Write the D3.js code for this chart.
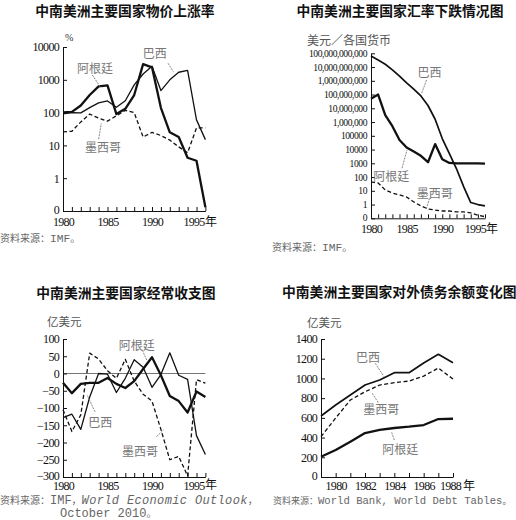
<!DOCTYPE html>
<html><head><meta charset="utf-8">
<script src="https://cdn.jsdelivr.net/npm/d3@7/dist/d3.min.js"></script>
<style>
body{margin:0;background:#fff}
svg{display:block}
.title{font-family:"Noto Sans CJK SC",sans-serif;font-weight:bold;font-size:13.8px;fill:#111}
.unit{font-family:"Noto Sans CJK SC",sans-serif;fill:#555}
.slabel{font-family:"Noto Sans CJK SC",sans-serif;font-size:12px;fill:#777}
.src{font-family:"Noto Sans CJK SC",sans-serif;font-size:10px;fill:#666}
.mono{font-family:"Liberation Mono","DejaVu Sans Mono",monospace;font-size:11.3px}
</style></head><body>
<svg id="c" width="516" height="520"></svg>
<script>
// ---------- DATA ----------
const years = [1980,1981,1982,1983,1984,1985,1986,1987,1988,1989,1990,1991,1992,1993,1994,1995,1996];

// Panel 1: inflation (%), log scale
const priceArgentina = [101,105,165,344,627,672,90,131,343,3000,2400,140,25,18,4.2,3.4,0.13];
const priceBrazil    = [92,100,98,142,197,227,145,230,700,1500,2600,470,1000,1700,1950,60,15];
const priceMexico    = [26,27,52,90,68,55,80,117,100,18,25,20,14.5,9,6,34,34];
const priceTicks = [0.1,1,10,100,1000,10000];
const priceTickLabels = ["0","1","10","100","1000","10000"];

// Panel 2: exchange rate (currency units per USD), log scale
const fxBrazil    = [6.3e10,3.2e10,1.6e10,6.3e9,2.2e9,7.1e8,2.5e8,7.9e7,1.6e7,1.6e6,63000,5000,400,20,1.4,1.0,0.8];
const fxArgentina = [5.0e7,1.0e8,3.2e6,5.0e5,5.0e4,14000,7100,3500,1200,25000,2000,1070,1000,1000,1000,1000,950];
const fxMexico    = [44,37,11.5,6.9,5.0,3.5,1.55,0.8,0.48,0.4,0.34,0.34,0.29,0.29,0.25,0.17,0.13];
const fxTicks = [0.1,1,10,100,1e3,1e4,1e5,1e6,1e7,1e8,1e9,1e10,1e11];
const fxTickLabels = ["0","1","10","100","1000","10000","100000","1,000,000","10,000,000","100,000,000","1,000,000,000","10,000,000,000","100,000,000,000"];

// Panel 3: current account (100 million USD)
const caArgentina = [-27,-57,-30,-27,-27,-13,-30,-42,-22,13,47,-5,-65,-80,-113,-52,-68];
const caBrazil    = [-128,-118,-162,-68,0,-2,-55,-14,40,18,-40,-3,60,-5,-17,-180,-235];
const caMexico    = [-105,-168,-120,59,42,8,-14,41,-22,-60,-80,-162,-250,-240,-297,-18,-28];
const caTicks = [100,50,0,-50,-100,-150,-200,-250,-300];

// Panel 4: external debt (100 million USD)
const debtYears = [1979,1980,1981,1982,1983,1984,1985,1986,1987,1988];
const debtBrazil    = [619,730,832,933,984,1058,1058,1156,1245,1160];
const debtMexico    = [409,598,781,865,933,957,973,1024,1105,994];
const debtArgentina = [206,274,358,446,477,497,510,527,588,591];
const debtTicks = [0,200,400,600,800,1000,1200,1400];
const debtXLabels = [1980,1982,1984,1986,1988];

const yearLabels = [1980,1985,1990,1995];

// ---------- DRAW ----------
const svg = d3.select("#c");
svg.append("rect").attr("width",516).attr("height",520).attr("fill","#fff");

const SERIF = '"Liberation Serif","Times New Roman","DejaVu Serif",serif';
const STY = {
  thick:{w:2.3,dash:null},
  mid:{w:1.7,dash:null},
  thin:{w:1.3,dash:null},
  dash:{w:1.3,dash:"4,2.5"}
};

function drawLine(g, x, y, xs, vals, style){
  const line = d3.line().x(d=>x(d[0])).y(d=>y(d[1]));
  g.append("path").datum(xs.map((v,i)=>[v,vals[i]]))
    .attr("d",line).attr("fill","none").attr("stroke","#111")
    .attr("stroke-width",style.w).attr("stroke-linejoin","round")
    .attr("stroke-dasharray",style.dash);
}
function label(g, x, y, text, pos, lead){
  g.append("text").attr("class","slabel").attr("x",x(pos[0])).attr("y",y(pos[1]))
    .attr("text-anchor","middle").attr("dominant-baseline","central").text(text);
  g.append("line").attr("x1",x(lead[0])).attr("y1",y(lead[1]))
    .attr("x2",x(lead[2])).attr("y2",y(lead[3]))
    .attr("stroke","#777").attr("stroke-width",0.9).attr("stroke-dasharray","2,1");
}
function styleAxis(ax, fs, ls){
  ax.attr("font-family",SERIF);
  ax.select(".domain").attr("stroke","#111").attr("stroke-width",1);
  ax.selectAll(".tick line").attr("stroke","#111");
  ax.selectAll(".tick text").style("font-family",SERIF).style("font-size",fs+"px")
    .style("letter-spacing",ls+"px").attr("fill","#111");
}
function yAxis(g, xPix, scale, vals, fmt, fs, ls){
  const ay = g.append("g").attr("transform",`translate(${xPix},0)`)
    .call(d3.axisLeft(scale).tickValues(vals).tickSizeInner(-4).tickSizeOuter(0).tickPadding(4).tickFormat(fmt));
  styleAxis(ay,fs,ls);
  ay.selectAll(".tick text").filter(d=>d===d3.min(vals)).attr("dy","0.2em");
  return ay;
}
function xAxisYears(g, x, yPix, tickVals, labelVals, nianX, pad){
  const ax = g.append("g").attr("transform",`translate(0,${yPix})`)
    .call(d3.axisBottom(x).tickValues(tickVals).tickSizeInner(-4).tickSizeOuter(0).tickPadding(pad)
      .tickFormat(d=>labelVals.includes(d)?String(d):""));
  styleAxis(ax,12,-0.7);
  g.append("text").attr("x",nianX).attr("y",yPix+pad+8).attr("class","unit")
    .style("font-size","12px").style("fill","#111").text("年");
  return ax;
}

// ===== Panel 1 =====
{
  const g = svg.append("g");
  const x = d3.scaleLinear().domain([1980,1996]).range([63,205.4]);
  const y = d3.scaleLog().domain([0.1,10000]).range([211,47]);
  g.append("text").attr("class","title").attr("x",125).attr("y",16).attr("text-anchor","middle").text("中南美洲主要国家物价上涨率");
  g.append("text").attr("x",65).attr("y",41).style("font-family",SERIF).style("font-size","10px").attr("fill","#333").text("%");
  yAxis(g,63,y,priceTicks,(d,i)=>priceTickLabels[i],12,-0.7);
  const ax = xAxisYears(g,x,211,years,yearLabels,205,6.5);
  ax.selectAll(".tick text").filter(d=>d===1995).attr("dx",-3);
  drawLine(g,x,y,years,priceMexico,STY.dash);
  drawLine(g,x,y,years,priceBrazil,STY.thin);
  drawLine(g,x,y,years,priceArgentina,STY.thick);
  label(g,x,y,"阿根廷",[1983.6,2450],[1983.3,1400,1984.2,600]);
  label(g,x,y,"巴西",[1990.3,7000],[1991.8,3200,1992.4,1770]);
  label(g,x,y,"墨西哥",[1984.5,9.1],[1984.0,15.5,1984.3,47]);
  const s = g.append("text").attr("class","src").attr("x",0).attr("y",242);
  s.append("tspan").text("资料来源：");
  s.append("tspan").attr("class","mono").text("IMF");
  s.append("tspan").text("。");
}

// ===== Panel 2 =====
{
  const g = svg.append("g");
  const x = d3.scaleLinear().domain([1980,1996]).range([371,485]);
  const y = d3.scaleLog().domain([0.1,1e11]).range([218.3,53.3]);
  g.append("text").attr("class","title").attr("x",400).attr("y",16).attr("text-anchor","middle").text("中南美洲主要国家汇率下跌情况图");
  g.append("text").attr("class","unit").attr("x",307).attr("y",45).style("font-size","12px").text("美元／各国货币");
  yAxis(g,371,y,fxTicks,(d,i)=>fxTickLabels[i],9.6,-0.45);
  const ax = xAxisYears(g,x,218.3,years,yearLabels,486,6.5);
  ax.selectAll(".tick text").filter(d=>d===1995).attr("dx",-3);
  drawLine(g,x,y,years,fxMexico,STY.dash);
  drawLine(g,x,y,years,fxBrazil,STY.mid);
  drawLine(g,x,y,years,fxArgentina,STY.thick);
  label(g,x,y,"巴西",[1988.2,4.6e9],[1987.8,1.15e9,1987.1,1.2e8]);
  label(g,x,y,"阿根廷",[1982.85,140],[1984.35,440,1985.05,9300]);
  label(g,x,y,"墨西哥",[1988.94,7.2],[1988.2,2.8,1987.75,0.45]);
  const s = g.append("text").attr("class","src").attr("x",272).attr("y",251);
  s.append("tspan").text("资料来源：");
  s.append("tspan").attr("class","mono").text("IMF");
  s.append("tspan").text("。");
}

// ===== Panel 3 =====
{
  const g = svg.append("g");
  const x = d3.scaleLinear().domain([1980,1996]).range([63,205.4]);
  const y = d3.scaleLinear().domain([-300,100]).range([477,339]);
  g.append("text").attr("class","title").attr("x",126).attr("y",297.5).attr("text-anchor","middle").text("中南美洲主要国家经常收支图");
  g.append("text").attr("class","unit").attr("x",47).attr("y",326).style("font-size","11.5px").text("亿美元");
  g.append("line").attr("x1",x(1980)).attr("x2",x(1996)).attr("y1",y(0)).attr("y2",y(0))
    .attr("stroke","#666").attr("stroke-width",0.9);
  yAxis(g,63,y,caTicks,null,12,-0.7);
  const ax = xAxisYears(g,x,477,years,yearLabels,205,4);
  ax.selectAll(".tick text").filter(d=>d===1995).attr("dx",-3);
  drawLine(g,x,y,years,caMexico,STY.dash);
  drawLine(g,x,y,years,caBrazil,STY.thin);
  drawLine(g,x,y,years,caArgentina,STY.thick);
  label(g,x,y,"阿根廷",[1988.3,83],[1988.9,68,1989.5,34]);
  label(g,x,y,"巴西",[1984.2,-140],[1983.6,-111,1982.7,-62]);
  label(g,x,y,"墨西哥",[1988.65,-222],[1990.5,-183,1991.3,-164]);
  const s = g.append("text").attr("class","src").attr("x",0).attr("y",503.5);
  s.append("tspan").text("资料来源：");
  s.append("tspan").attr("class","mono").style("font-size","12px").text("IMF");
  s.append("tspan").text("，");
  s.append("tspan").attr("class","mono").style("font-size","12px").style("font-style","italic")
    .style("letter-spacing","0.35px").text("World Economic Outlook");
  s.append("tspan").text("，");
  const s2 = g.append("text").attr("class","src").attr("x",60).attr("y",517);
  s2.append("tspan").attr("class","mono").style("font-size","12px").text("October 2010");
  s2.append("tspan").text("。");
}

// ===== Panel 4 =====
{
  const g = svg.append("g");
  const x = d3.scaleLinear().domain([1979,1988]).range([321,453]);
  const y = d3.scaleLinear().domain([0,1400]).range([477,339]);
  g.append("text").attr("class","title").attr("x",282).attr("y",297).text("中南美洲主要国家对外债务余额变化图");
  g.append("text").attr("class","unit").attr("x",307).attr("y",327).style("font-size","11.5px").text("亿美元");
  yAxis(g,321,y,debtTicks,d3.format("d"),12,-0.7);
  const ax = xAxisYears(g,x,477,debtYears,debtXLabels,463,4.5);
  ax.selectAll(".tick text").filter(d=>d===1988).attr("dx",-3);
  drawLine(g,x,y,debtYears,debtMexico,STY.dash);
  drawLine(g,x,y,debtYears,debtBrazil,STY.mid);
  drawLine(g,x,y,debtYears,debtArgentina,STY.thick);
  label(g,x,y,"巴西",[1982.2,1220],[1982.7,1153,1983.3,1018]);
  label(g,x,y,"墨西哥",[1983.1,697],[1982.9,754,1982.5,849]);
  label(g,x,y,"阿根廷",[1984.4,290],[1984.0,375,1983.8,460]);
  const s = g.append("text").attr("class","src").attr("x",273).attr("y",503.5);
  s.append("tspan").style("font-size","9px").text("资料来源：");
  s.append("tspan").attr("class","mono").style("font-size","10.6px").text("World Bank, World Debt Tables");
  s.append("tspan").style("font-size","9px").text("。");
}
</script>
</body></html>
